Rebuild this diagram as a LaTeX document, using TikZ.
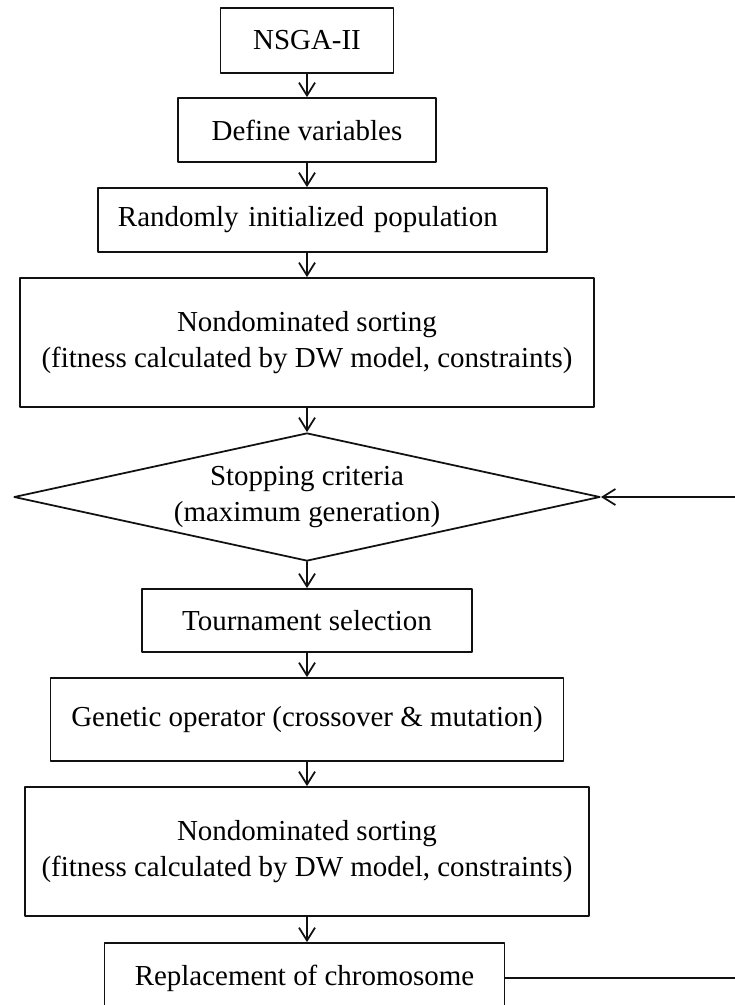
\documentclass[tikz,border=0pt]{standalone}
\usepackage{fontspec}
\setmainfont{Liberation Serif}
\usetikzlibrary{arrows.meta,shapes.geometric}
\definecolor{InkBlack}{HTML}{111111}

\begin{document}
\begin{tikzpicture}[
  x=0.025cm, y=-0.025cm,
  line cap=round, line join=round,
  >={Straight Barb[length=3.2mm,width=4mm]},
  every node/.style={font=\fontsize{20.6}{25}\selectfont, align=center, inner sep=0pt},
  stepbox/.style={draw=InkBlack, line width=1.25pt, rectangle},
  flow/.style={draw=InkBlack, line width=1.25pt, ->}
]

% === Page frame ===
\useasboundingbox (0,0) rectangle (735,1005);
\fill[white] (0,0) rectangle (735,1005);
\coordinate (axis) at (307,0);
\coordinate (edge) at (735,0);

% === Main chain of steps ===
\node[stepbox, minimum width=4.325cm, minimum height=1.625cm] (nsga) at (307,40.5) {NSGA-II};
\node[stepbox, minimum width=6.45cm, minimum height=1.6cm] (def) at (307,130) {Define variables};
\node[stepbox, text width=11.225cm, align=left, minimum height=1.6cm] (rand) at (322.5,220)
  {\hspace*{0.5cm}Randomly initialized population};
\node[stepbox, minimum width=14.35cm, minimum height=3.225cm] (nond1) at (307,342.5)
  {Nondominated sorting\\(fitness calculated by DW model, constraints)};

% Stopping test
\node[diamond, aspect=4.58, draw=InkBlack, line width=1.25pt, minimum width=14.65cm, minimum height=3.2cm] (stop) at (307,497)
  {Stopping criteria\\(maximum generation)};

\node[stepbox, minimum width=8.25cm, minimum height=1.575cm] (tourn) at (307,620.5) {Tournament selection};
\node[stepbox, minimum width=12.825cm, minimum height=2.075cm] (gen) at (307,719.5)
  {Genetic operator (crossover \& mutation)};
\node[stepbox, minimum width=14.1cm, minimum height=3.225cm] (nond2) at (307,851.5)
  {Nondominated sorting\\(fitness calculated by DW model, constraints)};
\node[stepbox, minimum width=10.0cm, minimum height=1.75cm] (repl) at (304.5,978) {Replacement of chromosome};

% === Arrows down the chain ===
\foreach \a/\b in {nsga/def, def/rand, rand/nond1, nond1/stop, stop/tourn, tourn/gen, gen/nond2, nond2/repl}{
  \draw[flow] (\a.south -| axis) -- (\b.north -| axis);
}

% === Loop back to the stopping test ===
\draw[InkBlack, line width=1.25pt] (repl.east) -- (repl.east -| edge);
\draw[flow] (stop.east -| edge) -- (stop.east);

\end{tikzpicture}
\end{document}
